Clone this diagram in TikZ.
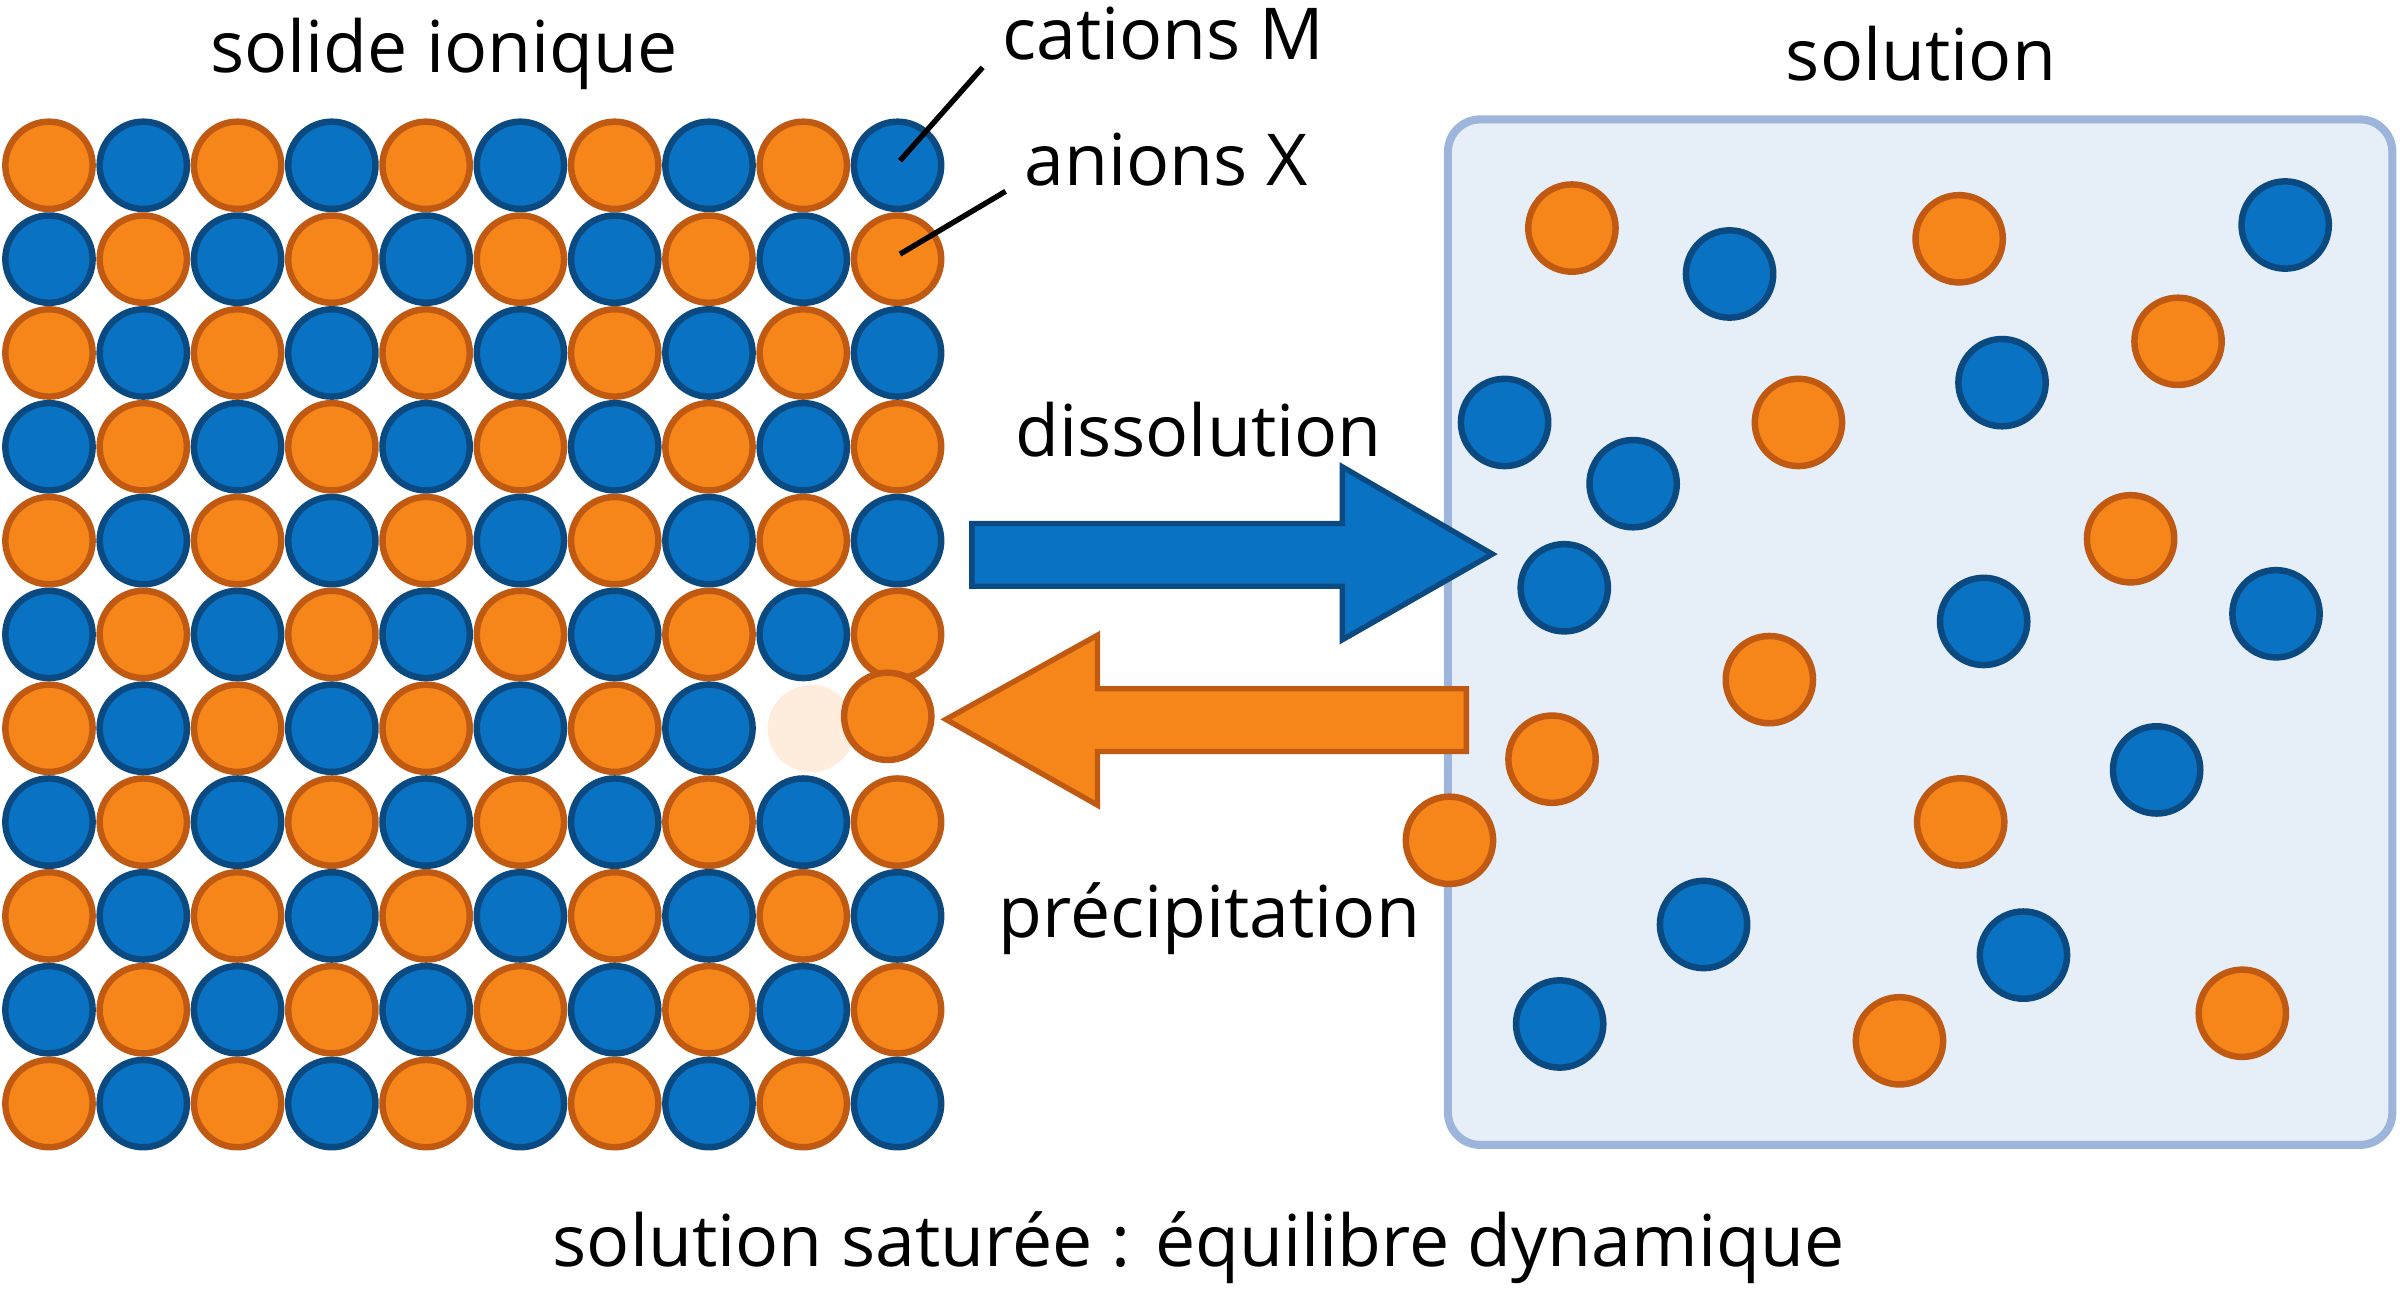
\documentclass[tikz,border=0pt]{standalone}
\usepackage{fontspec}
\setmainfont{Open Sans}
\usetikzlibrary{shapes.arrows}
\definecolor{orfill}{HTML}{F6861A}
\definecolor{ordraw}{HTML}{C05A12}
\definecolor{blfill}{HTML}{0A72C2}
\definecolor{bldraw}{HTML}{0B4A80}
\definecolor{boxfill}{HTML}{E6EEF8}
\definecolor{boxdraw}{HTML}{9DB5DA}
\tikzset{
  anion/.style={circle,fill=orfill,draw=ordraw,line width=1.2pt,minimum size=0.57cm,inner sep=0pt},
  cation/.style={circle,fill=blfill,draw=bldraw,line width=1.2pt,minimum size=0.57cm,inner sep=0pt},
  label/.style={font=\fontsize{13.3}{16}\selectfont,inner sep=0pt}
}
\begin{document}
\begin{tikzpicture}[x=0.01cm,y=-0.01cm]
\useasboundingbox (0,0) rectangle (1568,845);
%solid
\foreach \i in {0,...,10}{
  \foreach \j in {0,...,9}{
    \pgfmathtruncatemacro{\p}{mod(\i+\j,2)}
    \pgfmathtruncatemacro{\skip}{(\i==6)&&(\j>7)}
    \ifnum\skip=0
      \ifnum\p=0 \node[anion] at (32+61.6*\j,108+61.3*\i) {};
      \else \node[cation] at (32+61.6*\j,108+61.3*\i) {};\fi
    \fi
  }
}
\node[anion,draw=none,opacity=0.15] at (530,476) {};
\node[anion] (moved) at (580,468) {};
%solution
\draw[boxdraw,fill=boxfill,line width=1.5pt,rounded corners=6] (946,78) rectangle (1563,748);
\foreach \x/\y in {1027/149,1280/156,1423/223,1175/276,1392/352,1156/444,1014/496,947/549,1281/537,1465/662,1241/680}
  \node[anion] at (\x,\y) {};
\foreach \x/\y in {1493/147,1130/179,1308/250,983/276,1067/316,1022/384,1296/406,1487/401,1409/503,1113/604,1322/624,1019/669}
  \node[cation] at (\x,\y) {};
%arrows
\draw[fill=blfill,draw=bldraw,line width=1pt] (635,342)--(877,342)--(877,305)--(975,362)--(877,418)--(877,383)--(635,383)--cycle;
\draw[fill=orfill,draw=ordraw,line width=1pt] (958,450)--(717,450)--(717,415)--(618,470)--(717,526)--(717,491)--(958,491)--cycle;
%labels
\node[label] at (290,35) {solide ionique};
\node[label] (cat) at (760,22) {cations M};
\node[label] (an) at (762,104) {anions X};
\node[label] at (1255,35) {solution};
\node[label] at (783,281) {dissolution};
\node[label] at (790,600) {précipitation};
\node[label] at (783,815) {solution saturée : équilibre dynamique};
\coordinate (c1) at (588,105);
\coordinate (a1) at (588,166);
\draw[line width=1pt] (642,44)--(c1);
\draw[line width=1pt] (657,125)--(a1);
\end{tikzpicture}
\end{document}
